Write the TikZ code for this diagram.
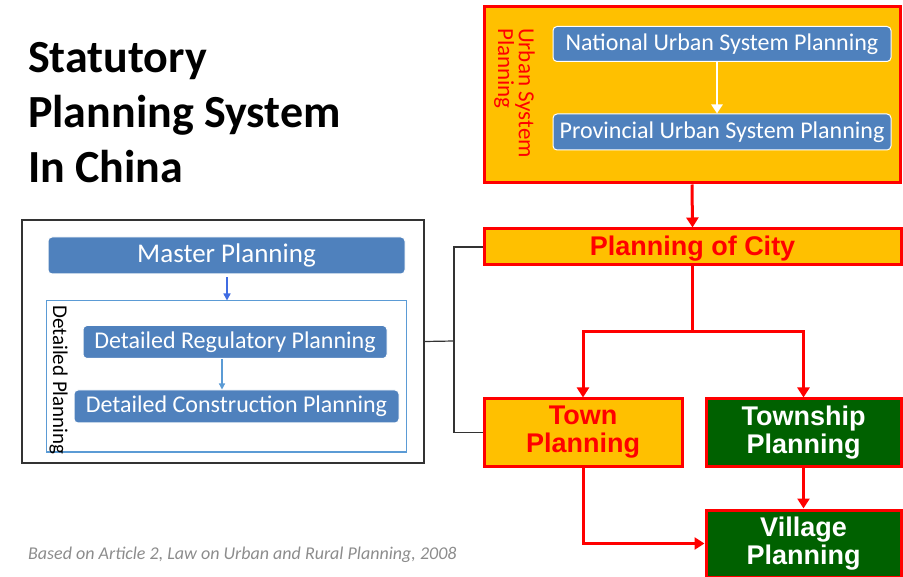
\documentclass[tikz,border=0pt]{standalone}
\usepackage{fontspec}
\setmainfont{Carlito}
\newfontfamily\arialb{Liberation Sans}[BoldFont={Liberation Sans Bold}]
\usetikzlibrary{arrows.meta}
\definecolor{gold}{HTML}{FFC000}
\definecolor{bluebox}{HTML}{4F81BD}
\definecolor{lightb}{HTML}{5B9BD5}
\definecolor{dgreen}{HTML}{006100}
\definecolor{redl}{HTML}{FF0000}
\tikzset{
  bluerect/.style={rounded corners=4pt, fill=bluebox, draw=white, line width=1pt, text=white, font=\fontsize{24}{26}\selectfont, inner sep=0pt},
  goldbox/.style={fill=gold, draw=redl, line width=3pt, text=redl, font=\arialb\bfseries\fontsize{27}{28}\selectfont, align=center, inner sep=0pt},
  greenbox/.style={fill=dgreen, draw=redl, line width=3pt, text=white, font=\arialb\bfseries\fontsize{27}{28}\selectfont, align=center, inner sep=0pt},
  redarrow/.style={draw=redl, line width=3pt, -{Triangle[length=10pt,width=12pt]}},
}
\begin{document}
\begin{tikzpicture}[x=1pt,y=-1pt]
\useasboundingbox (0,0) rectangle (903,577);
% title
\node[anchor=north west, align=left, font=\bfseries\fontsize{46}{55}\selectfont, inner sep=0pt] (title) at (28,42) {Statutory\\Planning System\\In China};
% urban system
\node[goldbox, minimum width=416pt, minimum height=176pt] (usp) at (692,95) {};
\node[rotate=-90, anchor=north west, align=left, text=redl, font=\fontsize{23}{18}\selectfont, inner sep=0pt] (uspl) at (535,28) {Urban System\\Planning};
\node[bluerect, minimum width=338pt, minimum height=35pt] (nat) at (722,44) {National Urban System Planning};
\node[bluerect, minimum width=338pt, minimum height=36pt] (prov) at (722,132) {Provincial Urban System Planning};
\draw[white, line width=2.5pt, -{Triangle[length=9pt,width=11pt]}] (nat.south -| 717,0) -- (prov.north -| 717,0);
% planning of city
\node[goldbox, minimum width=417pt, minimum height=36pt, text depth=3pt] (city) at (692.5,247) {Planning of City};
\draw[redarrow] (usp.south) -- (city.north);
\node[goldbox, minimum width=198pt, minimum height=67pt] (town) at (583,432.5) {Town\\Planning};
\node[greenbox, minimum width=195pt, minimum height=67pt] (township) at (803.5,432.5) {Township\\Planning};
\node[greenbox, minimum width=195pt, minimum height=67pt] (village) at (803.5,543.5) {Village\\Planning};
\coordinate (split) at (692,332);
\draw[draw=redl, line width=3pt] (city.south -| split) -- (split);
\draw[redarrow] (split) -| (town.north);
\draw[redarrow] (split) -| (township.north);
\draw[redarrow] (township.south) -- (village.north);
\draw[redarrow] (town.south) |- (village.west);
% left box
\node[draw=black!80, line width=1.2pt, fill=white, minimum width=402pt, minimum height=243pt, inner sep=0pt] (leftbox) at (223,341.5) {};
\node[bluerect, minimum width=357pt, minimum height=37pt, font=\fontsize{27}{28}\selectfont] (master) at (226.5,255.5) {Master Planning};
\node[draw=lightb, line width=1pt, minimum width=360pt, minimum height=151pt, inner sep=0pt] (detail) at (226,376.5) {};
\node[rotate=-90, anchor=north west, font=\fontsize{21}{22}\selectfont, inner sep=0pt] (detl) at (68,305) {Detailed Planning};
\draw[draw=lightb!70!blue, line width=1.5pt, -{Triangle[length=7pt,width=7pt]}] (master.south -| 227,0) ++(0,3) -- (detail.north -| 227,0);
\node[bluerect, minimum width=304pt, minimum height=33pt] (reg) at (235,342) {Detailed Regulatory Planning};
\node[bluerect, minimum width=325pt, minimum height=33pt] (cons) at (236.5,406.5) {Detailed Construction Planning};
\draw[draw=lightb, line width=1.2pt, -{Triangle[length=6pt,width=6pt]}] (reg.south -| 222,0) -- (cons.north -| 222,0);
% bracket
\coordinate (bk) at (454,341);
\draw[black!80, line width=1.2pt] (leftbox.east) -- (bk);
\draw[black!80, line width=1.2pt] (city.west) -| (bk) |- (town.west);
% footnote
\node[anchor=west, text=black!45, font=\itshape\fontsize{18}{20}\selectfont, inner sep=0pt] (foot) at (28,555) {Based on Article 2, Law on Urban and Rural Planning, 2008};
\end{tikzpicture}
\end{document}
